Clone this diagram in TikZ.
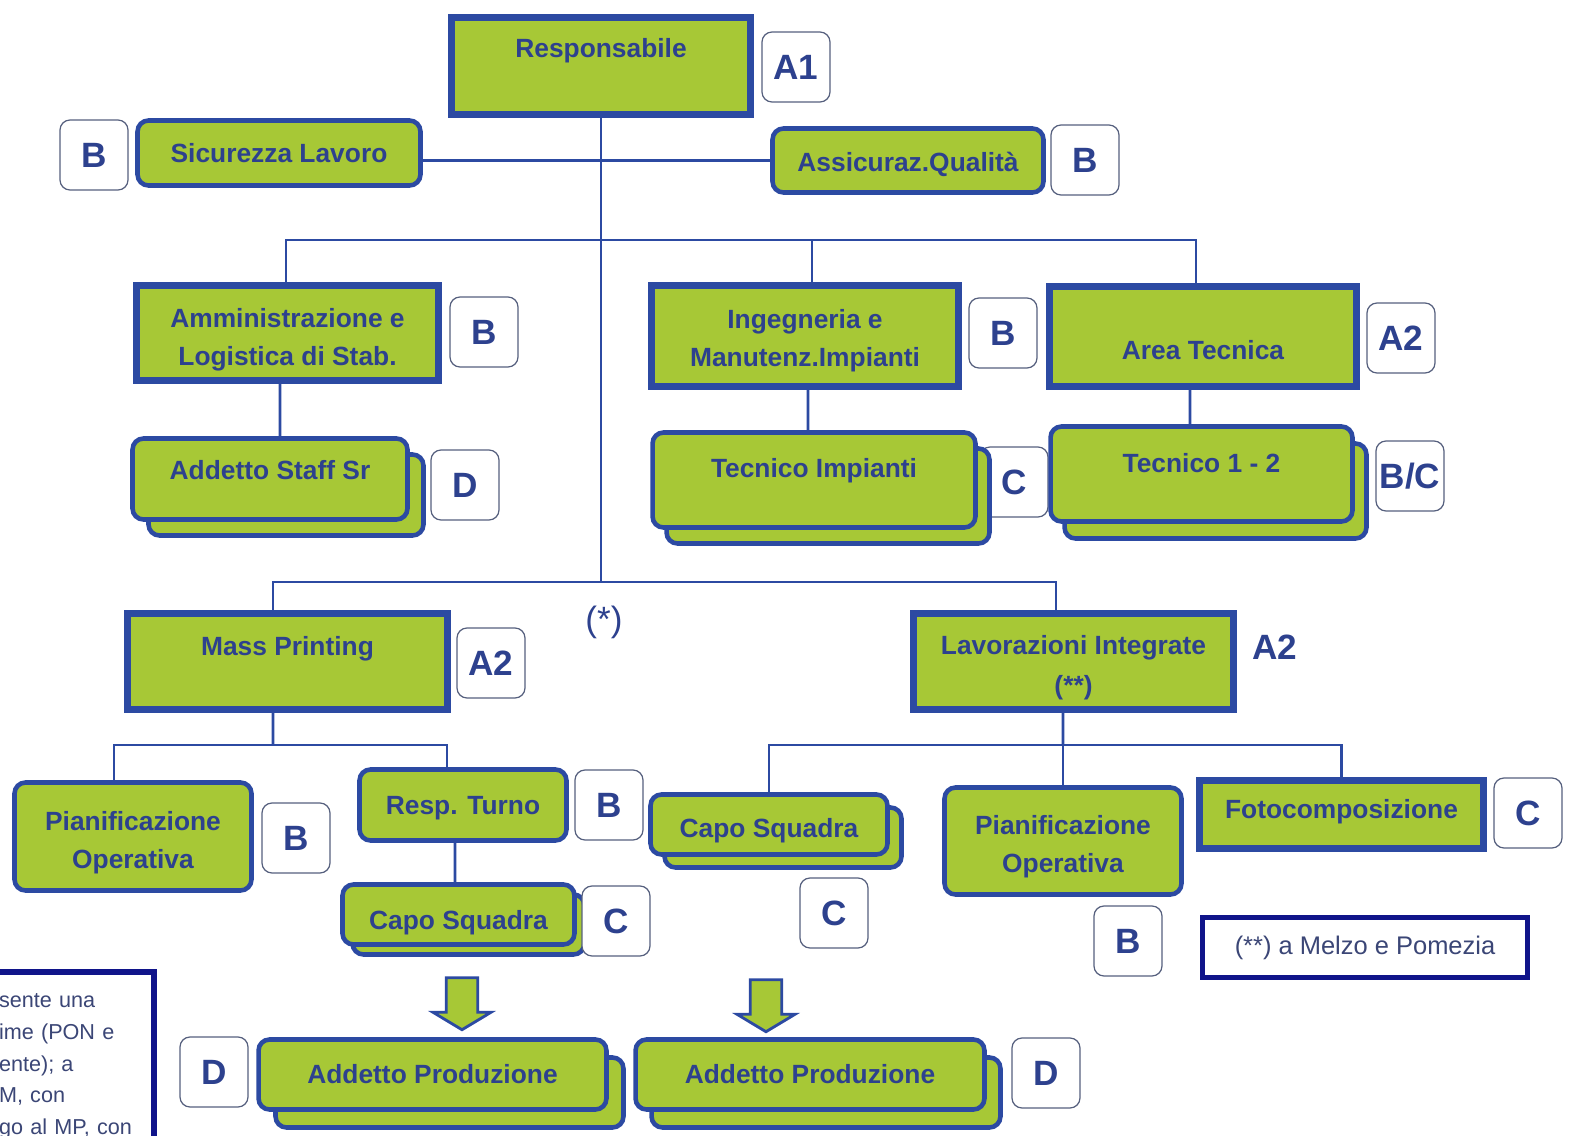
\documentclass[tikz,border=0pt]{standalone}
\usepackage{fontspec}
\setmainfont{Liberation Sans}
\usetikzlibrary{shadows,shapes.arrows}
\definecolor{unitgreen}{HTML}{A7C836}
\definecolor{unitblue}{HTML}{2C4AA2}
\definecolor{labelblue}{HTML}{2D418E}
\definecolor{gradeline}{HTML}{56607E}
\definecolor{notenavy}{HTML}{10148A}
\definecolor{notetext}{HTML}{3B4676}
\newcommand{\padtop}[1]{\rule{0pt}{#1}}

\begin{document}
\begin{tikzpicture}[
    x = 0.02cm, y = -0.02cm,
    font = \bfseries\fontsize{15}{21.5}\selectfont,
    dims/.style 2 args = {minimum width = #1, minimum height = #2},
    lift/.style 2 args = {text height = #1, text depth = #2},
    unit/.style = {draw = unitblue, fill = unitgreen, line width = 4pt,
        text = labelblue, align = center},
    role/.style = {unit, line width = 2.6pt, rounded corners = 0.22cm},
    team/.style 2 args = {role, copy shadow = {shadow xshift = #1,
        shadow yshift = -#2, draw = unitblue, fill = unitgreen, line width = 2.6pt}},
    grade/.style = {draw = gradeline, fill = white, line width = 0.7pt,
        rounded corners = 0.2cm, dims = {1.36cm}{1.4cm}, inner sep = 1pt,
        text = labelblue, font = \bfseries\fontsize{20}{24}\selectfont},
    link/.style = {draw = unitblue, line width = 1.6pt},
    down/.style = {single arrow, shape border rotate = 270, draw = unitblue,
        fill = unitgreen, line width = 1.6pt, inner sep = 0.28cm,
        dims = {1.16cm}{1.04cm}, single arrow head extend = 0.26cm,
        single arrow tip angle = 118},
    note/.style = {draw = notenavy, fill = white, line width = 3pt,
        text = notetext, font = \fontsize{14.5}{18}\selectfont}
]
\useasboundingbox (0,0) rectangle (1573,1136);
\clip (0,0) rectangle (1573,1136);

\node[unit, dims = {5.98cm}{1.94cm}, lift = {11pt}{20.6pt}] (resp) at (601,66) {Responsabile};
\node[grade] (gResp) at (796,67) {A1};

\node[role, dims = {5.66cm}{1.3cm}] (safety) at (279,153) {Sicurezza Lavoro};
\node[grade] (gSafety) at (94,155) {B};
\node[role, dims = {5.42cm}{1.28cm}, lift = {13pt}{0pt}] (quality) at (908,160.5) {Assicuraz.Qualità};
\node[grade] (gQuality) at (1085,160) {B};

\node[unit, dims = {6.04cm}{1.9cm}] (admin) at (287.5,333) {\padtop{18.8pt}Amministrazione e\\Logistica di Stab.};
\node[grade] (gAdmin) at (484,332) {B};
\node[unit, dims = {6.14cm}{2.02cm}] (eng) at (805,336) {\padtop{16pt}Ingegneria e\\Manutenz.Impianti};
\node[grade] (gEng) at (1003,333) {B};
\node[unit, dims = {6.14cm}{2cm}, lift = {26pt}{0pt}] (tech) at (1203,336.5) {Area Tecnica};
\node[grade] (gTech) at (1401,338) {A2};

\node[team = {0.32cm}{0.32cm}, dims = {5.5cm}{1.62cm}, lift = {11pt}{10.4pt}] (staff) at (270,479) {Addetto Staff Sr};
\node[grade] (gStaff) at (465,485) {D};
\node[grade] (gPlant) at (1014,482) {C};
\node[team = {0.28cm}{0.32cm}, dims = {6.46cm}{1.9cm}, lift = {11pt}{13.9pt}] (plant) at (814,480) {Tecnico Impianti};
\node[team = {0.28cm}{0.34cm}, dims = {6.04cm}{1.9cm}, lift = {11pt}{12.7pt}] (techs) at (1201.5,474) {Tecnico 1 - 2};
\node[grade] (gTechs) at (1410,476) {B/C};

\node[unit, dims = {6.4cm}{1.92cm}, lift = {11pt}{17.7pt}] (mass) at (287.5,661.5) {Mass Printing};
\node[grade] (gMass) at (491,663) {A2};
\node[unit, dims = {6.4cm}{1.92cm}, font = \bfseries\fontsize{15}{22.7}\selectfont] (integ) at (1073.5,661.5) {\padtop{18.3pt}Lavorazioni Integrate\\(**)};
\node[grade, draw = none, fill = none] (gInteg) at (1275,647) {A2};
\node[font = \fontsize{20}{24}\selectfont, text = labelblue] (star) at (604,622) {(*)};

\node[role, dims = {4.74cm}{2.16cm}] (planL) at (133,836.5) {\padtop{17.7pt}Pianificazione\\Operativa};
\node[grade] (gPlanL) at (296,838) {B};
\node[role, dims = {4.14cm}{1.42cm}, lift = {11pt}{0.3pt}] (turn) at (463,805) {Resp. Turno};
\node[grade] (gTurn) at (609,805) {B};
\node[team = {0.2cm}{0.2cm}, dims = {4.64cm}{1.2cm}, lift = {17pt}{0pt}] (crewL) at (458.5,914.5) {Capo Squadra};
\node[grade] (gCrewL) at (616,921) {C};

\node[team = {0.28cm}{0.26cm}, dims = {4.74cm}{1.2cm}, lift = {14.7pt}{0pt}] (crewR) at (769,824.5) {Capo Squadra};
\node[grade] (gCrewR) at (834,913) {C};
\node[role, dims = {4.74cm}{2.14cm}] (planR) at (1063,841) {\padtop{17.7pt}Pianificazione\\Operativa};
\node[grade] (gPlanR) at (1128,941) {B};
\node[unit, dims = {5.68cm}{1.36cm}, lift = {11pt}{6.6pt}] (photo) at (1341.5,814.5) {Fotocomposizione};
\node[grade] (gPhoto) at (1528,813) {C};

\node[down] (arrowL) at (462,999) {};
\node[down] (arrowR) at (766,1001) {};

\node[team = {0.34cm}{0.36cm}, dims = {6.96cm}{1.4cm}] (prodL) at (432.5,1074.5) {Addetto Produzione};
\node[grade] (gProdL) at (214,1072) {D};
\node[team = {0.32cm}{0.36cm}, dims = {6.98cm}{1.4cm}] (prodR) at (810,1074.5) {Addetto Produzione};
\node[grade] (gProdR) at (1046,1073) {D};

\node[note, dims = {6.5cm}{1.2cm}] (sites) at (1365,947.5) {(**) a Melzo e Pomezia};
\node[note, font = \fontsize{12.3}{18}\selectfont, line width = 3.4pt, anchor = north east,
    text width = 2.9cm, align = left, inner xsep = 0.2cm, inner ysep = 0.44cm]
    (remark) at (157,969) {sente una\\ime (PON e\\ente); a\\M, con\\go al MP, con};

\coordinate (hubTop) at (601,240);
\coordinate (hubMid) at (601,582);
\coordinate (hubMass) at (273,745);
\coordinate (hubInteg) at (1063,745);

\draw[link] (resp.south) -- (hubMid);
\draw[link] (safety.east |- quality.west) -- (quality.west);
\draw[link] ([xshift = -0.03cm]admin.north) |- (hubTop) -| ([xshift = -0.14cm]tech.north);
\draw[link] ([xshift = 0.14cm]eng.north) |- (hubTop);
\draw[link] ([xshift = -0.15cm]admin.south) -- ([xshift = 0.2cm]staff.north);
\draw[link] ([xshift = 0.06cm]eng.south) -- ([xshift = -0.12cm]plant.north);
\draw[link] ([xshift = -0.26cm]tech.south) -- ([xshift = -0.23cm]techs.north);
\draw[link] ([xshift = -0.29cm]mass.north) |- (hubMid) -| ([xshift = -0.35cm]integ.north);
\draw[link] ([xshift = -0.29cm]mass.south) -- (hubMass);
\draw[link] ([xshift = -0.38cm]planL.north) |- (hubMass) -| ([xshift = -0.32cm]turn.north);
\draw[link] ([xshift = -0.16cm]turn.south) -- ([xshift = -0.07cm]crewL.north);
\draw[link] ([xshift = -0.21cm]integ.south) -- (hubInteg);
\draw[link] (crewR.north) |- (hubInteg) -| (photo.north);
\draw[link] (planR.north) -- (hubInteg);
\end{tikzpicture}
\end{document}
